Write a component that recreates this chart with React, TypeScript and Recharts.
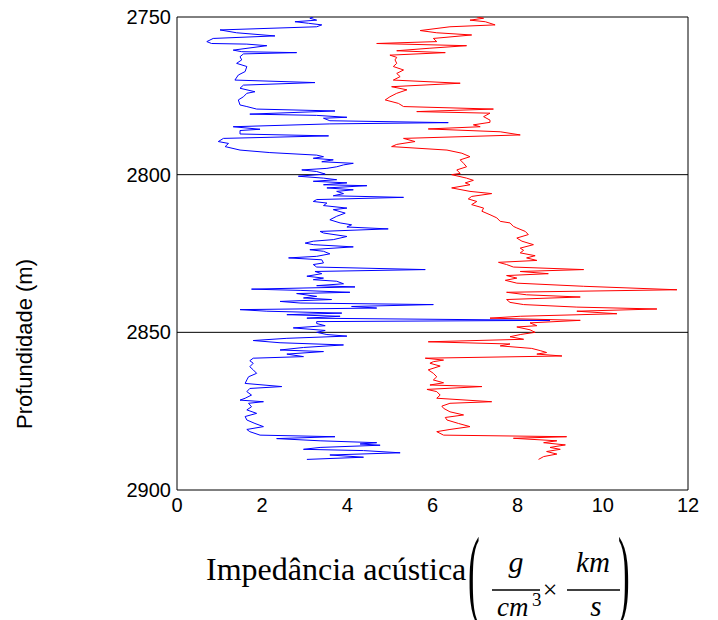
import React from 'react';
import { ScatterChart, Scatter, XAxis, YAxis, ReferenceLine } from 'recharts';

// well A (blue) – depth (m) and acoustic impedance
const depthA = [
  2750.0, 2750.4, 2751.0, 2751.5, 2752.0, 2752.5, 2753.1, 2754.1, 2755.0, 2756.0,
  2756.8, 2757.8, 2758.4, 2758.6, 2759.1, 2760.5, 2761.0, 2761.3, 2761.7, 2762.6,
  2763.6, 2764.7, 2765.7, 2767.3, 2768.4, 2770.0, 2770.8, 2771.6, 2772.6, 2773.7,
  2774.2, 2775.3, 2776.3, 2777.9, 2778.4, 2779.2, 2779.8, 2780.8, 2781.2, 2781.8,
  2782.1, 2782.9, 2783.5, 2783.9, 2784.8, 2785.6, 2786.0, 2787.1, 2787.7, 2788.5,
  2789.5, 2790.1, 2791.1, 2792.2, 2793.0, 2793.8, 2794.3, 2794.8, 2795.3, 2795.9,
  2796.4, 2796.9, 2797.5, 2798.0, 2798.5, 2799.0, 2799.8, 2800.5, 2801.1, 2801.6,
  2802.1, 2802.6, 2803.2, 2803.5, 2804.2, 2804.8, 2805.3, 2806.0, 2806.7, 2807.2,
  2807.9, 2808.5, 2809.0, 2809.8, 2810.6, 2811.1, 2812.2, 2813.2, 2814.3, 2815.3,
  2815.9, 2816.6, 2817.2, 2818.0, 2818.5, 2819.6, 2820.6, 2821.1, 2821.7, 2822.2,
  2822.9, 2823.8, 2824.3, 2825.1, 2825.9, 2826.4, 2827.0, 2828.0, 2828.5, 2829.3,
  2830.1, 2830.7, 2831.4, 2832.2, 2832.8, 2833.3, 2833.8, 2834.6, 2835.2, 2835.6,
  2836.3, 2836.7, 2837.3, 2837.7, 2838.6, 2839.1, 2839.6, 2840.2, 2840.7, 2841.2,
  2841.8, 2842.3, 2842.8, 2843.3, 2843.9, 2844.4, 2844.9, 2845.5, 2846.2, 2846.6,
  2847.2, 2847.9, 2848.6, 2849.4, 2850.0, 2850.7, 2851.2, 2851.9, 2852.6, 2853.3,
  2854.0, 2854.8, 2855.6, 2856.1, 2856.9, 2857.7, 2858.2, 2859.0, 2859.8, 2860.9,
  2861.9, 2863.0, 2864.1, 2865.1, 2866.2, 2867.2, 2867.8, 2868.8, 2869.9, 2870.9,
  2871.5, 2872.0, 2872.5, 2873.6, 2874.6, 2875.7, 2876.7, 2877.8, 2878.9, 2879.9,
  2880.8, 2881.5, 2882.6, 2883.1, 2883.7, 2884.4, 2885.0, 2885.4, 2885.8, 2886.5,
  2887.1, 2887.5, 2888.2, 2888.9, 2889.6, 2890.3,
];
const impA = [
  3.20, 3.12, 3.28, 2.77, 3.09, 3.40, 3.28, 1.01, 1.40, 2.30,
  0.85, 0.70, 0.81, 1.64, 2.11, 1.32, 1.52, 2.81, 1.56, 1.48,
  1.52, 1.40, 1.64, 1.60, 1.44, 1.36, 3.24, 1.56, 1.48, 1.83,
  1.64, 1.56, 1.44, 1.48, 1.64, 1.87, 3.71, 1.71, 3.28, 3.99,
  3.44, 3.59, 6.37, 3.59, 1.32, 1.95, 1.48, 1.48, 3.56, 1.09,
  0.97, 1.21, 1.13, 1.48, 2.18, 3.28, 3.44, 3.20, 3.67, 3.40,
  4.14, 3.91, 3.75, 3.52, 2.93, 3.28, 3.48, 2.85, 3.44, 3.75,
  3.20, 3.99, 3.44, 4.46, 3.52, 4.14, 3.75, 3.91, 3.67, 5.32,
  3.28, 3.20, 3.52, 3.44, 3.99, 3.67, 3.95, 3.75, 3.59, 3.83,
  4.10, 3.99, 4.96, 3.36, 3.44, 3.99, 3.67, 3.20, 3.01, 3.20,
  4.14, 3.12, 3.44, 3.59, 3.28, 2.62, 3.40, 3.44, 3.20, 3.28,
  5.83, 3.24, 3.40, 3.05, 3.44, 3.20, 3.75, 3.91, 3.28, 4.18,
  1.75, 2.89, 4.06, 2.81, 3.28, 2.97, 3.63, 2.42, 2.89, 6.02,
  4.10, 4.69, 1.48, 2.11, 3.87, 2.58, 3.83, 3.05, 8.76, 3.28,
  3.28, 3.48, 2.73, 3.48, 3.28, 3.52, 3.99, 2.58, 1.79, 2.42,
  3.91, 2.97, 2.42, 3.44, 2.58, 2.97, 1.79, 1.71, 1.79, 1.71,
  1.79, 1.87, 1.68, 1.64, 1.60, 2.46, 1.71, 1.64, 1.75, 1.60,
  1.48, 2.03, 1.68, 1.75, 1.64, 1.87, 1.60, 1.64, 1.83, 2.03,
  1.64, 1.71, 1.95, 3.71, 2.34, 3.36, 4.69, 4.30, 4.77, 3.36,
  2.97, 4.38, 5.24, 3.59, 4.38, 3.05,
];

// well B (red)
const depthB = [
  2750.0, 2750.4, 2751.0, 2751.5, 2752.5, 2753.1, 2754.3, 2755.0, 2755.7, 2756.8,
  2757.8, 2758.4, 2759.1, 2759.9, 2760.7, 2761.3, 2762.1, 2762.8, 2763.6, 2764.7,
  2765.7, 2766.8, 2767.9, 2768.9, 2770.0, 2771.0, 2772.1, 2773.1, 2774.2, 2775.3,
  2776.3, 2777.4, 2778.4, 2779.2, 2780.0, 2780.5, 2781.6, 2782.7, 2783.4, 2784.2,
  2784.8, 2785.5, 2786.4, 2787.4, 2788.5, 2789.5, 2790.4, 2791.1, 2792.2, 2793.2,
  2794.3, 2795.3, 2796.4, 2797.5, 2798.5, 2799.6, 2800.0, 2801.1, 2801.8, 2802.6,
  2803.2, 2804.2, 2805.3, 2806.0, 2806.9, 2807.7, 2808.5, 2809.5, 2810.6, 2811.6,
  2812.7, 2813.7, 2814.8, 2815.3, 2816.4, 2816.9, 2818.0, 2819.0, 2820.1, 2821.1,
  2822.2, 2823.3, 2824.0, 2824.8, 2825.7, 2826.4, 2827.2, 2827.8, 2828.5, 2829.3,
  2830.1, 2830.7, 2831.4, 2832.0, 2832.8, 2833.5, 2834.4, 2835.4, 2836.5, 2837.3,
  2838.1, 2838.8, 2839.6, 2840.5, 2841.2, 2842.0, 2842.6, 2843.3, 2844.1, 2844.9,
  2845.5, 2846.2, 2847.0, 2847.9, 2848.3, 2849.2, 2850.0, 2850.7, 2851.4, 2852.2,
  2853.0, 2853.7, 2854.3, 2855.1, 2855.8, 2856.4, 2856.9, 2857.5, 2858.2, 2858.8,
  2859.3, 2859.8, 2860.7, 2861.9, 2863.0, 2864.1, 2865.1, 2866.0, 2866.7, 2867.2,
  2868.1, 2868.8, 2869.9, 2870.9, 2872.0, 2872.5, 2873.4, 2874.1, 2875.2, 2876.2,
  2877.0, 2877.8, 2878.9, 2879.9, 2880.8, 2881.5, 2882.6, 2883.1, 2883.6, 2884.4,
  2885.0, 2885.7, 2886.5, 2887.1, 2887.8, 2888.6, 2889.4, 2890.3,
];
const impB = [
  7.04, 7.20, 6.88, 7.24, 7.47, 6.41, 5.71, 6.10, 6.92, 6.02,
  6.10, 4.69, 6.80, 5.94, 5.16, 6.30, 5.00, 5.16, 5.12, 5.16,
  5.08, 5.32, 5.16, 5.24, 5.08, 6.65, 5.04, 5.40, 5.16, 5.00,
  4.89, 5.20, 5.32, 7.43, 5.63, 7.35, 7.20, 7.35, 7.35, 6.96,
  7.12, 5.90, 7.59, 8.06, 5.32, 5.59, 5.16, 5.04, 6.34, 6.69,
  6.88, 6.65, 6.73, 6.80, 6.57, 6.65, 6.45, 6.80, 6.96, 6.77,
  6.88, 6.45, 6.88, 7.39, 6.92, 6.84, 7.04, 6.92, 7.20, 7.16,
  7.35, 7.51, 7.59, 7.82, 7.90, 7.98, 8.18, 8.25, 7.98, 8.10,
  8.37, 8.06, 8.14, 8.06, 8.41, 8.21, 8.45, 7.55, 7.74, 7.90,
  9.55, 8.06, 8.72, 7.74, 7.98, 7.71, 7.98, 9.55, 11.74, 7.74,
  8.21, 9.47, 7.74, 7.82, 8.14, 9.39, 11.27, 9.39, 10.33, 8.06,
  7.35, 9.47, 8.29, 8.45, 7.98, 8.29, 8.41, 8.06, 7.82, 8.14,
  5.90, 7.82, 7.59, 8.33, 8.53, 8.68, 8.45, 9.04, 5.83, 6.26,
  6.02, 5.94, 6.18, 5.90, 6.02, 6.10, 6.02, 6.26, 5.94, 7.16,
  5.87, 6.10, 6.18, 6.10, 7.39, 6.41, 6.22, 6.26, 6.41, 6.73,
  6.30, 6.34, 6.61, 6.88, 6.41, 6.10, 6.26, 9.15, 7.90, 8.92,
  8.61, 9.12, 8.76, 9.00, 8.68, 8.92, 8.61, 8.49,
];

const xTicks = [0, 2, 4, 6, 8, 10, 12];
const yTicks = [2750, 2800, 2850, 2900];
const markerDepths = [2800, 2850];

const dataA = depthA.map((d, i) => ({ depth: d, imp: impA[i] }));
const dataB = depthB.map((d, i) => ({ depth: d, imp: impB[i] }));

const tickFont = { fill: '#000', fontSize: 20, fontFamily: 'Liberation Sans, Arial, sans-serif' };
const noDot = () => <g />;

export default function App() {
  return (
    <div style={{ position: 'relative', width: 702, height: 612 }}>
      <ScatterChart width={702} height={604} margin={{ top: 9, right: 22, left: 0, bottom: 0 }}>
        <XAxis xAxisId="b" type="number" dataKey="imp" domain={[0, 12]} ticks={xTicks} interval={0}
          allowDataOverflow height={122} tickLine={false} tickSize={0} tickMargin={8}
          tick={tickFont} stroke="#000" />
        <XAxis xAxisId="bm" type="number" domain={[0, 12]} ticks={xTicks} interval={0} allowDataOverflow
          orientation="bottom" mirror height={1} tick={false} tickSize={5} axisLine={false} stroke="#000" />
        <XAxis xAxisId="t" type="number" domain={[0, 12]} ticks={xTicks} interval={0} allowDataOverflow
          orientation="top" mirror height={1} tick={false} tickSize={5} stroke="#000" />
        <YAxis yAxisId="l" type="number" dataKey="depth" domain={[2750, 2900]} ticks={yTicks} interval={0}
          reversed allowDataOverflow width={169} tickLine={false} tickSize={0} tickMargin={6}
          tick={tickFont} stroke="#000" />
        <YAxis yAxisId="lm" type="number" domain={[2750, 2900]} ticks={yTicks} interval={0} reversed
          allowDataOverflow orientation="left" mirror width={1} tick={false} tickSize={5}
          axisLine={false} stroke="#000" />
        <YAxis yAxisId="r" type="number" domain={[2750, 2900]} ticks={yTicks} interval={0} reversed
          allowDataOverflow orientation="right" mirror width={1} tick={false} tickSize={5} stroke="#000" />
        {markerDepths.map((d) => (
          <ReferenceLine key={d} xAxisId="b" yAxisId="l" y={d} stroke="#000" strokeWidth={1} />
        ))}
        <Scatter data={dataA} xAxisId="b" yAxisId="l" fill="#0000ff" shape={noDot}
          line={{ stroke: '#0000ff', strokeWidth: 1 }} lineType="joint" isAnimationActive={false} />
        <Scatter data={dataB} xAxisId="b" yAxisId="l" fill="#ff0000" shape={noDot}
          line={{ stroke: '#ff0000', strokeWidth: 1 }} lineType="joint" isAnimationActive={false} />
      </ScatterChart>
      <svg width={702} height={612} style={{ position: 'absolute', left: 0, top: 0, pointerEvents: 'none' }}>
        <text x={24} y={336} transform="rotate(-90, 24, 336)" textAnchor="middle"
          fontFamily="Liberation Sans, Arial, sans-serif" fontSize={22} fill="#000">
          Profundidade (m)
        </text>
        <g fontFamily="Liberation Serif, Times New Roman, serif" fill="#000">
          <text x={198} y={572} fontSize={32}>Impedância acústica</text>
          <text transform="translate(460, 598) scale(1.1, 3.1)" fontSize={32}>(</text>
          <text x={508} y={564} fontSize={30} fontStyle="italic" textAnchor="middle">g</text>
          <line x1={484} y1={582} x2={532} y2={582} stroke="#000" strokeWidth={1.5} />
          <text x={489} y={608} fontSize={27} fontStyle="italic">cm</text>
          <text x={524} y={598} fontSize={19}>3</text>
          <text x={542} y={590} fontSize={26} textAnchor="middle">×</text>
          <text x={585} y={564} fontSize={29} fontStyle="italic" textAnchor="middle">km</text>
          <line x1={559} y1={582} x2={612} y2={582} stroke="#000" strokeWidth={1.5} />
          <text x={588} y={608} fontSize={29} fontStyle="italic" textAnchor="middle">s</text>
          <text transform="translate(610, 598) scale(1.1, 3.1)" fontSize={32}>)</text>
        </g>
      </svg>
    </div>
  );
}
